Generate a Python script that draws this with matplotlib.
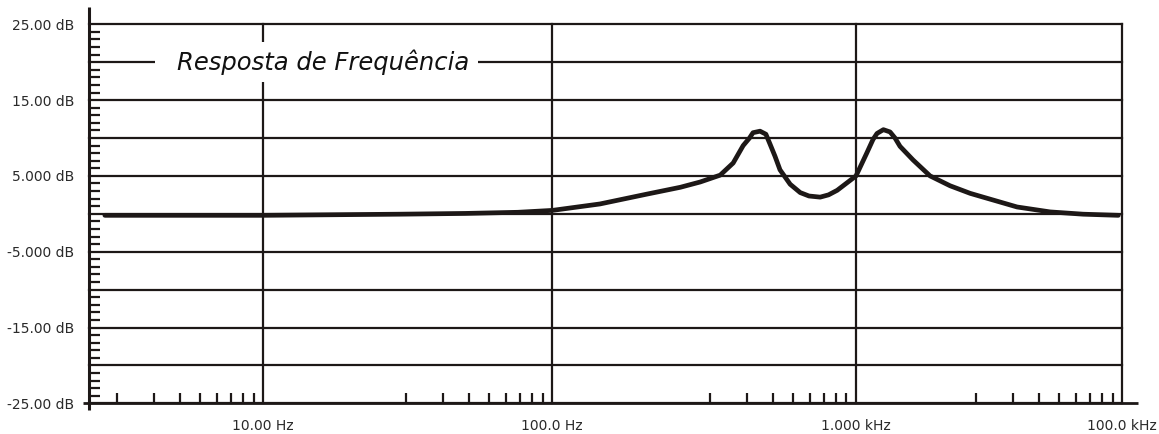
import numpy as np
import matplotlib
matplotlib.use("Agg")
import matplotlib.pyplot as plt
import matplotlib.transforms as mtransforms
from matplotlib.patches import Rectangle
from matplotlib.ticker import FixedLocator, NullFormatter

# ---------------- data ----------------
freq_hz = [2.83, 10, 29.7, 50, 76, 100, 143.5, 205, 264, 307, 357, 394, 425,
           446, 458, 483, 505, 521, 541, 562, 607, 655, 700, 762, 812, 867,
           1000, 1097, 1158, 1199, 1267, 1342, 1401, 1463, 1638, 1897, 2255,
           2683, 3002, 4027, 5358, 7128, 9660]
gain_db = [-0.2, -0.2, -0.05, 0.05, 0.2, 0.45, 1.3, 2.6, 3.5, 4.2, 5.1, 6.7,
           9.0, 10.0, 10.7, 10.9, 10.5, 9.2, 7.6, 5.8, 3.9, 2.8, 2.35, 2.2,
           2.5, 3.1, 5.0, 8.0, 9.8, 10.6, 11.1, 10.8, 10.0, 8.9, 7.1, 5.0, 3.7,
           2.7, 2.2, 0.9, 0.25, -0.05, -0.2]

x_major = [10, 100, 1000, 10000]
x_major_labels = ["10.00 Hz", "100.0 Hz", "1.000 kHz", "100.0 kHz"]
y_grid = [25, 20, 15, 10, 5, 0, -5, -10, -15, -20, -25]
y_labels = {25: "25.00 dB", 15: "15.00 dB", 5: "5.000 dB", -5: "-5.000 dB",
            -15: "-15.00 dB", -25: "-25.00 dB"}
title = "Resposta de Frequência"

# ---------------- scale: log with uneven decades (as drawn) ----------------
A_LOG = np.array([1.0, 2.0, 3.0, 4.0])
A_POS = np.array([174.0, 463.0, 766.7, 1033.0])
SLOPE_L, SLOPE_R = 289.0, 266.3


def fwd(f):
    lf = np.log10(np.clip(np.asarray(f, float), 1e-12, None))
    out = np.interp(lf, A_LOG, A_POS)
    out = np.where(lf < A_LOG[0], A_POS[0] + (lf - A_LOG[0]) * SLOPE_L, out)
    out = np.where(lf > A_LOG[-1], A_POS[-1] + (lf - A_LOG[-1]) * SLOPE_R, out)
    return out


def inv(u):
    u = np.asarray(u, float)
    lf = np.interp(u, A_POS, A_LOG)
    lf = np.where(u < A_POS[0], A_LOG[0] + (u - A_POS[0]) / SLOPE_L, lf)
    lf = np.where(u > A_POS[-1], A_LOG[-1] + (u - A_POS[-1]) / SLOPE_R, lf)
    return 10 ** lf


INK = "#1d1817"
TXT = "#2a2a2a"

fig = plt.figure(figsize=(11.59, 4.34), dpi=100)
ax = fig.add_axes([0.07705, 0.0707, 0.8913, 0.8733])
ax.set_xscale("function", functions=(fwd, inv))
ax.set_xlim(float(inv(0.0)), 10000)
ax.set_ylim(-25, 25)

for s in ax.spines.values():
    s.set_visible(False)

# grid
for yv in y_grid:
    ax.axhline(yv, color=INK, lw=1.6, zorder=1, clip_on=False)
for xv in x_major:
    ax.axvline(xv, color=INK, lw=1.6, zorder=1, clip_on=False)

# axis lines (extended past the plot area as in the reference)
ax.plot([0, 0], [-0.018, 1.046], transform=ax.transAxes, color=INK, lw=2.2,
        clip_on=False, zorder=6, solid_capstyle="butt")
ax.plot([-0.006, 1.015], [0, 0], transform=ax.transAxes, color=INK, lw=2.0,
        clip_on=False, zorder=6, solid_capstyle="butt")

# ticks
ax.set_xticks(x_major)
ax.set_xticklabels(x_major_labels)
ax.set_yticks(list(y_labels.keys()))
ax.set_yticklabels(list(y_labels.values()))
ax.tick_params(which="major", length=0, labelsize=10, labelcolor=TXT)
ax.tick_params(axis="x", which="major", pad=11)
ax.tick_params(axis="y", which="major", pad=11)

minor_x = []
for E in x_major:
    for d in range(2, 10):
        u = float(fwd(E)) - 209.0 * (1 - np.log10(d))
        if u > 0:
            minor_x.append(float(inv(u)))
ax.xaxis.set_minor_locator(FixedLocator(minor_x))
ax.xaxis.set_minor_formatter(NullFormatter())
ax.yaxis.set_minor_locator(FixedLocator([v for v in range(-25, 26) if v % 5]))
ax.yaxis.set_minor_formatter(NullFormatter())
ax.tick_params(axis="x", which="minor", direction="in", length=7.2, width=1.6,
               color=INK, top=False)
ax.tick_params(axis="y", which="minor", direction="in", length=8.0, width=1.6,
               color=INK, right=False)

# curve
ax.plot(freq_hz, gain_db, color=INK, lw=3.4, zorder=4,
        solid_joinstyle="round", solid_capstyle="round")

# title with white box over the grid
ax.add_patch(Rectangle((0.0636, 0.848), 0.3127, 0.105, transform=ax.transAxes,
                       facecolor="white", edgecolor="none", zorder=2))
trans = mtransforms.blended_transform_factory(ax.transAxes, ax.transData)
ax.text(0.2265, 20, title, transform=trans, ha="center", va="center",
        fontsize=17.5, style="italic", family="DejaVu Sans", color="#111111",
        zorder=3)

fig.savefig("out.png", dpi=100, facecolor="white")
